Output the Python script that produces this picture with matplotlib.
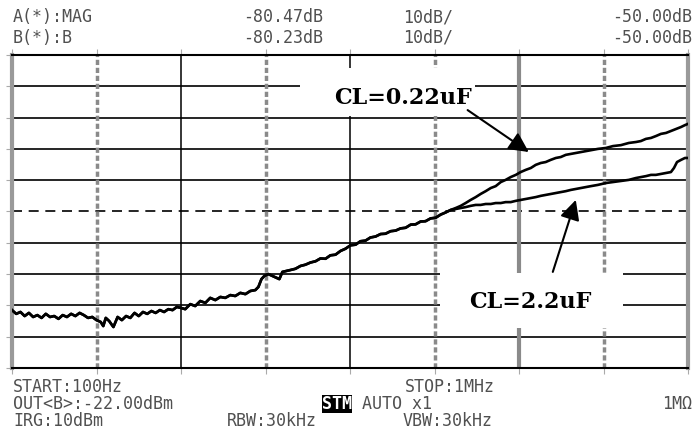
import numpy as np
import matplotlib.pyplot as plt
from matplotlib.patches import Rectangle

# trace: log10(frequency / Hz) and level in dB
common_logf = [2.000, 2.025, 2.050, 2.075, 2.100, 2.125, 2.150, 2.175, 2.200, 2.225,
               2.250, 2.275, 2.300, 2.325, 2.350, 2.375, 2.400, 2.425, 2.450, 2.475,
               2.500, 2.525, 2.540, 2.555, 2.575, 2.600, 2.625, 2.650, 2.675, 2.700,
               2.725, 2.750, 2.775, 2.800, 2.825, 2.850, 2.875, 2.900, 2.925, 2.950,
               2.975, 3.000,
               3.025, 3.055, 3.084, 3.114, 3.144, 3.173, 3.203, 3.233, 3.262, 3.292,
               3.321, 3.351, 3.381, 3.410, 3.440, 3.458, 3.476, 3.493, 3.517, 3.541,
               3.564, 3.582, 3.600, 3.624, 3.647, 3.677, 3.707, 3.736, 3.766, 3.796,
               3.825, 3.855, 3.884, 3.914, 3.944, 3.973, 4.003, 4.033, 4.062, 4.092,
               4.121, 4.151, 4.181, 4.210, 4.240, 4.270, 4.299, 4.329, 4.359, 4.388,
               4.418, 4.447, 4.477, 4.507, 4.536, 4.566, 4.596]
common_db = [-131.5, -132.7, -132.1, -133.4, -132.4, -133.7, -133.1, -134.0, -132.7, -133.7,
             -133.4, -134.3, -133.1, -133.7, -132.7, -133.4, -132.4, -133.1, -134.0, -133.7,
             -134.7, -135.3, -136.6, -134.0, -135.0, -136.9, -133.7, -134.7, -133.4, -134.0,
             -132.4, -133.4, -132.1, -132.7, -131.8, -132.4, -131.5, -132.1, -131.2, -131.5,
             -130.5, -130.8,
             -131.2, -129.6, -130.2, -128.6, -129.2, -127.6, -128.3, -127.3, -127.6, -126.7,
             -127.0, -126.0, -126.4, -125.4, -125.1, -124.1, -121.6, -120.6, -120.0, -120.6,
             -121.2, -121.6, -119.3, -119.0, -118.7, -118.3, -117.4, -117.0, -116.3, -115.9,
             -115.0, -115.1, -114.0, -113.8, -112.6, -111.9, -110.8, -110.6, -109.5, -109.3,
             -108.3, -108.0, -107.2, -107.1, -106.3, -106.1, -105.4, -105.2, -104.2, -104.1,
             -103.2, -103.1, -102.2, -102.0, -101.0, -100.3, -99.5]

branch_logf = [4.625, 4.655, 4.684, 4.714, 4.744, 4.773, 4.803, 4.833, 4.862, 4.892,
               4.921, 4.951, 4.981, 5.010, 5.040, 5.070, 5.099, 5.129, 5.158, 5.188,
               5.218, 5.247, 5.277, 5.307, 5.336, 5.366, 5.396, 5.425, 5.467, 5.514,
               5.556, 5.603, 5.650, 5.692, 5.721, 5.751, 5.781, 5.810, 5.840, 5.870,
               5.899, 5.917, 5.935, 5.959, 5.982, 6.000]
cl022_db = [-98.9, -98.2, -97.3, -96.3, -95.4, -94.4, -93.5, -92.5, -91.9, -90.6,
            -89.9, -89.0, -88.3, -87.4, -86.7, -86.1, -85.1, -84.5, -84.2, -83.5,
            -82.9, -82.6, -81.9, -81.6, -81.3, -81.0, -80.7, -80.4, -80.0, -79.7,
            -79.1, -78.8, -78.1, -77.8, -77.5, -76.8, -76.5, -75.9, -75.2, -74.9,
            -74.3, -73.9, -73.5, -73.0, -72.4, -72.0]
cl22_db = [-99.2, -98.9, -98.6, -98.2, -97.9, -97.9, -97.6, -97.6, -97.3, -97.3,
           -97.0, -97.0, -96.6, -96.3, -96.0, -95.7, -95.4, -95.0, -94.7, -94.4,
           -94.1, -93.8, -93.5, -93.1, -92.8, -92.5, -92.2, -91.9, -91.5, -90.9,
           -90.6, -90.3, -89.9, -89.3, -89.0, -88.7, -88.3, -88.3, -88.0, -87.7,
           -87.4, -86.1, -84.2, -83.5, -82.9, -82.9]

header = [['A(*):MAG', '-80.47dB', '10dB/', '-50.00dB'],
          ['B(*):B', '-80.23dB', '10dB/', '-50.00dB']]

W, H = 695, 444
fig = plt.figure(figsize=(W / 100, H / 100), dpi=100)
ax = fig.add_axes([12 / W, 76 / H, 676 / W, 313 / H])

def fx(x):
    return x / W

def fy(y):
    return 1 - y / H

f_a = 10 ** np.array(common_logf + branch_logf)
ax.plot(f_a, common_db + cl022_db, color='black', lw=1.9, zorder=5)
ax.plot(f_a, common_db + cl22_db, color='black', lw=1.9, zorder=5)

ax.set_xscale('log')
ax.set_xlim(100, 1e6)
ax.set_ylim(-150, -50)

# screen graticule
for lv in range(-140, -50, 10):
    ax.axhline(lv, color='black', lw=1.2, ls=(0, (6, 4)) if lv == -100 else '-', zorder=1)
for k, lf in enumerate(np.arange(2.5, 6, 0.5)):
    f = 10 ** lf
    if k % 2 == 0:
        ax.axvline(f, color='#8a8a8a', lw=2.5, ls=(0, (1.5, 0.8)), zorder=1)
    elif lf == 5:
        ax.axvline(f, color='#8a8a8a', lw=3, zorder=1)
    else:
        ax.axvline(f, color='black', lw=1.1, zorder=1)
for s in ['top', 'bottom']:
    ax.spines[s].set_linewidth(1.5)
for s in ['left', 'right']:
    ax.spines[s].set_color('#9a9a9a')
    ax.spines[s].set_linewidth(3)
ax.set_xticks(10 ** np.arange(2, 6.01, 0.5))
ax.set_yticks(range(-150, -49, 10))
ax.minorticks_off()
ax.tick_params(which='both', direction='out', length=4, color='#aaaaaa',
               labelbottom=False, labelleft=False, top=True, right=False)

# label boxes and arrows
ax.add_patch(Rectangle((0.426, 0.805), 0.259, 0.153, transform=ax.transAxes,
                       facecolor='white', edgecolor='none', zorder=3))
ax.add_patch(Rectangle((0.633, 0.128), 0.271, 0.176, transform=ax.transAxes,
                       facecolor='white', edgecolor='none', zorder=3))
lab = dict(family='DejaVu Serif', fontweight='bold', fontsize=16, zorder=6,
           ha='center', va='center', transform=ax.transAxes)
ax.text(0.578, 0.863, 'CL=0.22uF', **lab)
ax.text(0.766, 0.211, 'CL=2.2uF', **lab)
arr = dict(arrowstyle='-|>', mutation_scale=30, lw=1.5, color='black', shrinkA=0, shrinkB=0)
ax.annotate('', xy=(10 ** 5.058, -81.0), xytext=(10 ** 4.696, -67.6), arrowprops=arr, zorder=7)
ax.annotate('', xy=(10 ** 5.336, -96.3), xytext=(10 ** 5.200, -119.3), arrowprops=arr, zorder=7)

# instrument readouts
fs = 12
mono = dict(family='DejaVu Sans Mono', fontsize=fs, color='#505050', va='center')
for row, y in zip(header, [17, 38]):
    fig.text(fx(13), fy(y), row[0], ha='left', **mono)
    fig.text(fx(283), fy(y), row[1], ha='center', **mono)
    fig.text(fx(428), fy(y), row[2], ha='center', **mono)
    fig.text(fx(692), fy(y), row[3], ha='right', **mono)

fig.text(fx(13), fy(387), 'START:100Hz', ha='left', **mono)
fig.text(fx(450), fy(387), 'STOP:1MHz', ha='center', **mono)
fig.text(fx(13), fy(404), 'OUT<B>:-22.00dBm', ha='left', **mono)
fig.text(fx(322), fy(404), 'STM', ha='left', family='DejaVu Sans Mono', fontsize=fs,
         color='white', va='center', fontweight='bold',
         bbox=dict(facecolor='black', edgecolor='none', pad=0.3))
fig.text(fx(362), fy(404), 'AUTO x1', ha='left', **mono)
fig.text(fx(692), fy(404), '1MΩ', ha='right', **mono)
fig.text(fx(13), fy(421), 'IRG:10dBm', ha='left', **mono)
fig.text(fx(272), fy(421), 'RBW:30kHz', ha='center', **mono)
fig.text(fx(448), fy(421), 'VBW:30kHz', ha='center', **mono)

fig.savefig('out.png', dpi=100)
